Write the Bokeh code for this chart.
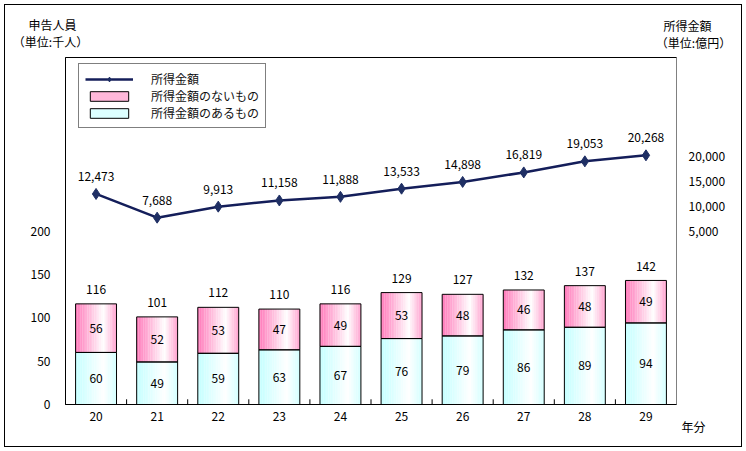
from bokeh.plotting import figure
from bokeh.layouts import column
from bokeh.models import (ColumnDataSource, FactorRange, Range1d, LinearAxis, FixedTicker,
                          NumeralTickFormatter, Legend, LegendItem, Label, Title)
from bokeh.transform import dodge
from bokeh.core.properties import value
from bokeh.embed import file_html
from bokeh.resources import INLINE

# ---- data ----
years = ["20", "21", "22", "23", "24", "25", "26", "27", "28", "29"]
with_income = [60, 49, 59, 63, 67, 76, 79, 86, 89, 94]      # 所得金額のあるもの
no_income = [56, 52, 53, 47, 49, 53, 48, 46, 48, 49]        # 所得金額のないもの
totals = [116, 101, 112, 110, 116, 129, 127, 132, 137, 142]  # 合計
amount = [12473, 7688, 9913, 11158, 11888, 13533, 14898, 16819, 19053, 20268]  # 所得金額(億円)

left_ticks = [0, 50, 100, 150, 200]
right_ticks = [5000, 10000, 15000, 20000]

FONT = "Noto Sans CJK JP"
W, H_HEAD, H_MAIN = 746, 52, 399

src = ColumnDataSource(dict(
    year=years,
    wi=with_income,
    ni=no_income,
    stack_top=[a + b for a, b in zip(with_income, no_income)],
    zero=[0] * len(years),
    total=totals,
    total_lbl=[str(v) for v in totals],
    wi_lbl=[str(v) for v in with_income],
    ni_lbl=[str(v) for v in no_income],
    wi_mid=[a / 2 for a in with_income],
    ni_mid=[a + b / 2 for a, b in zip(with_income, no_income)],
    amt=amount,
    amt_lbl=[f"{v:,}" for v in amount],
))

# ---- header strip with the unit captions ----
head = figure(width=W, height=H_HEAD, x_range=Range1d(0, W), y_range=Range1d(H_HEAD, 0),
              output_backend="svg", toolbar_location=None,
              x_axis_location=None, y_axis_location=None,
              min_border_left=0, min_border_right=0, min_border_top=0, min_border_bottom=0)
head.frame_align = False
head.outline_line_color = None
head.grid.visible = False
head.background_fill_color = None
head.border_fill_color = None
cap = dict(text_font=FONT, text_font_size="12px", text_color="black",
           text_align="center", text_baseline="middle")
head.add_layout(Label(x=52, y=24, text="申告人員", **cap))
head.add_layout(Label(x=50, y=41, text="（単位:千人）", **cap))
head.add_layout(Label(x=687, y=25, text="所得金額", **cap))
head.add_layout(Label(x=693, y=42, text="（単位:億円）", **cap))

# ---- main chart ----
p = figure(x_range=FactorRange(*years), y_range=Range1d(0, 400),
           width=W, height=H_MAIN, output_backend="svg", toolbar_location=None,
           min_border_left=65, min_border_right=70, min_border_top=5, min_border_bottom=47)
p.frame_align = False
p.extra_y_ranges = {"amt": Range1d(-30000, 40000)}
p.xgrid.visible = False
p.ygrid.visible = False
p.outline_line_color = "black"
p.outline_line_width = 1
p.background_fill_color = "white"
p.border_fill_color = None

# gradient bars drawn as narrow strips
BW = 0.67
N = 24


def mix(base, w):
    return "#%02x%02x%02x" % tuple(int(round(255 * (1 - w) + c * w)) for c in base)


def weight(t, right_w):
    if t < 0.68:
        return 1 - t / 0.68
    return right_w * (t - 0.68) / 0.32


pink = (255, 120, 185)
cyan = (195, 255, 255)
sw = BW / N
for k in range(N):
    t = (k + 0.5) / N
    off = -BW / 2 + (k + 0.5) * sw
    xx = dodge("year", off, range=p.x_range)
    p.vbar(x=xx, width=sw * 1.08, bottom="zero", top="wi", source=src,
           fill_color=mix(cyan, weight(t, 0.75)), line_color=None)
    p.vbar(x=xx, width=sw * 1.08, bottom="wi", top="stack_top", source=src,
           fill_color=mix(pink, weight(t, 0.7)), line_color=None)

p.vbar(x="year", width=BW, bottom="zero", top="wi", source=src,
       fill_color=None, line_color="black", line_width=1)
p.vbar(x="year", width=BW, bottom="wi", top="stack_top", source=src,
       fill_color=None, line_color="black", line_width=1)

# category boundary tick marks (inside)
p.segment(x0=dodge("year", 0.5, range=p.x_range), x1=dodge("year", 0.5, range=p.x_range),
          y0="zero", y1=6, source=src, line_color="black", line_width=1)

lbl_kw = dict(text_font=value(FONT), text_font_size="12px", text_color="black",
              text_align="center")
p.text(x="year", y="wi_mid", text="wi_lbl", source=src, text_baseline="middle", **lbl_kw)
p.text(x="year", y="ni_mid", text="ni_lbl", source=src, text_baseline="middle", **lbl_kw)
p.text(x="year", y="total", text="total_lbl", source=src, text_baseline="bottom",
       y_offset=-10, **lbl_kw)

# line
LINE_C = "#141E5A"
lr = p.line(x="year", y="amt", source=src, y_range_name="amt", line_color=LINE_C, line_width=2.5)
sr = p.scatter(x="year", y="amt", source=src, y_range_name="amt", marker="diamond",
               size=11, fill_color="#1F2F64", line_color="#1F2F64")
p.text(x="year", y="amt", text="amt_lbl", source=src, y_range_name="amt",
       text_baseline="bottom", y_offset=-13, **lbl_kw)

# axes
ax = p.yaxis[0]
ax.ticker = FixedTicker(ticks=left_ticks)
ax.major_tick_line_color = None
ax.major_tick_out = 0
ax.major_tick_in = 0
ax.minor_tick_line_color = None
ax.axis_line_color = "black"
ax.major_label_standoff = 15
ax.major_label_text_font = FONT
ax.major_label_text_font_size = "12px"
ax.major_label_text_color = "black"

ra = LinearAxis(y_range_name="amt", ticker=FixedTicker(ticks=right_ticks),
                formatter=NumeralTickFormatter(format="0,0"))
ra.major_tick_line_color = None
ra.major_tick_out = 0
ra.major_tick_in = 0
ra.minor_tick_line_color = None
ra.axis_line_color = "#808080"
ra.major_label_standoff = 12
ra.major_label_text_font = FONT
ra.major_label_text_font_size = "12px"
ra.major_label_text_color = "black"
p.add_layout(ra, "right")

xa = p.xaxis[0]
xa.major_tick_line_color = None
xa.major_tick_out = 0
xa.major_tick_in = 0
xa.axis_line_color = "black"
xa.major_label_standoff = 7
xa.major_label_text_font = FONT
xa.major_label_text_font_size = "12px"
xa.major_label_text_color = "black"

# "年分" caption below the x axis, at the right end
p.add_layout(Title(text="年分", align="right", offset=-29, standoff=-16,
                   text_font=FONT, text_font_size="12px", text_font_style="normal",
                   text_color="black"), "below")

# legend (swatch renderers have zero size so they draw nothing in the plot)
pink_sw = p.vbar(x="year", width=0, bottom="zero", top="zero", source=src,
                 fill_color="#FFB8DA", line_color="black")
cyan_sw = p.vbar(x="year", width=0, bottom="zero", top="zero", source=src,
                 fill_color="#DDFFFF", line_color="black")
legend = Legend(items=[
    LegendItem(label="所得金額", renderers=[lr, sr]),
    LegendItem(label="所得金額のないもの", renderers=[pink_sw]),
    LegendItem(label="所得金額のあるもの", renderers=[cyan_sw]),
], location=(13, 276))
legend.label_text_font = FONT
legend.label_text_font_size = "12px"
legend.label_text_color = "#111111"
legend.glyph_width = 48
legend.glyph_height = 12
legend.label_height = 12
legend.label_standoff = 18
legend.spacing = 0
legend.padding = 6
legend.margin = 0
legend.border_line_color = "black"
legend.border_line_width = 1
legend.background_fill_alpha = 1
p.add_layout(legend, "center")

layout = column(head, p, spacing=0,
                styles={"outline": "1px solid black", "outline-offset": "-5px"})

open("out.html", "w").write(file_html(layout, INLINE))
